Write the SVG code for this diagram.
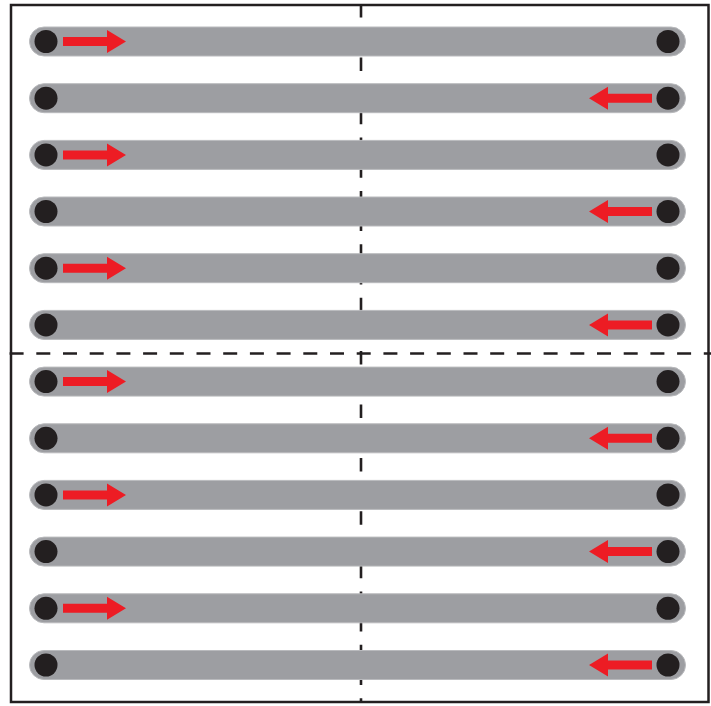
<svg xmlns="http://www.w3.org/2000/svg" width="711" height="706" viewBox="0 0 711 706">
  <style>
    .bar { fill: #9d9ea2; stroke: #b9babd; stroke-width: 1; }
    .dot { fill: #231f20; }
    .arrow { fill: #ed1c24; }
    .guide { stroke: #231f20; stroke-width: 2.6; fill: none; stroke-dasharray: 13.5 13.2; }
    .frame { fill: none; stroke: #231f20; stroke-width: 2.5; }
  </style>
  <defs>
    <g id="barShape">
      <rect class="bar" x="29.5" y="-14.5" width="656" height="29" rx="14.5" ry="14.5"/>
      <circle class="dot" cx="46" cy="0" r="11.5"/>
      <circle class="dot" cx="668" cy="0" r="11.5"/>
    </g>
    <path id="arrowRight" class="arrow" d="M63,-4.5 H107 V-11.5 L126,0 L107,11.5 V4.5 H63 Z"/>
    <path id="arrowLeft" class="arrow" d="M652,-4.5 H608 V-11.5 L589,0 L608,11.5 V4.5 H652 Z"/>
  </defs>
  <rect x="0" y="0" width="711" height="706" fill="#ffffff"/>
  <g id="guides">
    <line class="guide" x1="361" y1="4" x2="361" y2="702"/>
  </g>
  <g id="nodes">
    <g id="bar1" transform="translate(0,41.5)"><use href="#barShape"/></g>
    <g id="bar2" transform="translate(0,98.2)"><use href="#barShape"/></g>
    <g id="bar3" transform="translate(0,154.9)"><use href="#barShape"/></g>
    <g id="bar4" transform="translate(0,211.5)"><use href="#barShape"/></g>
    <g id="bar5" transform="translate(0,268.2)"><use href="#barShape"/></g>
    <g id="bar6" transform="translate(0,324.9)"><use href="#barShape"/></g>
    <g id="bar7" transform="translate(0,381.6)"><use href="#barShape"/></g>
    <g id="bar8" transform="translate(0,438.3)"><use href="#barShape"/></g>
    <g id="bar9" transform="translate(0,494.9)"><use href="#barShape"/></g>
    <g id="bar10" transform="translate(0,551.6)"><use href="#barShape"/></g>
    <g id="bar11" transform="translate(0,608.3)"><use href="#barShape"/></g>
    <g id="bar12" transform="translate(0,665)"><use href="#barShape"/></g>
  </g>
  <g id="connectors">
    <use href="#arrowRight" transform="translate(0,41.5)"/>
    <use href="#arrowLeft" transform="translate(0,98.2)"/>
    <use href="#arrowRight" transform="translate(0,154.9)"/>
    <use href="#arrowLeft" transform="translate(0,211.5)"/>
    <use href="#arrowRight" transform="translate(0,268.2)"/>
    <use href="#arrowLeft" transform="translate(0,324.9)"/>
    <use href="#arrowRight" transform="translate(0,381.6)"/>
    <use href="#arrowLeft" transform="translate(0,438.3)"/>
    <use href="#arrowRight" transform="translate(0,494.9)"/>
    <use href="#arrowLeft" transform="translate(0,551.6)"/>
    <use href="#arrowRight" transform="translate(0,608.3)"/>
    <use href="#arrowLeft" transform="translate(0,665)"/>
  </g>
  <g id="divider">
    <line class="guide" x1="9.6" y1="353.5" x2="711" y2="353.5" style="stroke-dasharray: 14 12.7"/>
  </g>
  <rect class="frame" x="11" y="5" width="697.5" height="697"/>
</svg>
